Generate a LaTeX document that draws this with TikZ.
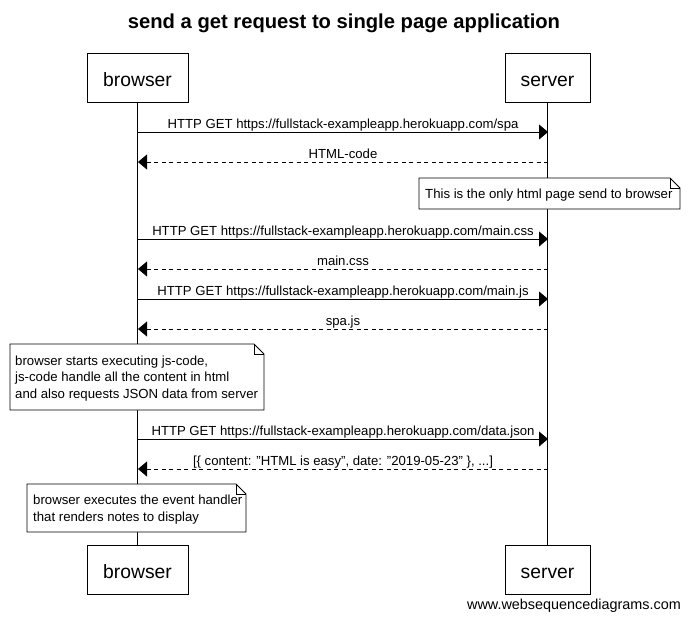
\documentclass[tikz,border=0pt]{standalone}
\usepackage{fontspec}
\setmainfont{Liberation Sans}
\usetikzlibrary{arrows.meta}
\newcommand{\sq}{\symbol{34}}
\begin{document}
\begin{tikzpicture}[x=1pt,y=-1pt,
  actor/.style={draw,fill=white,line width=0.8pt,minimum width=101pt,minimum height=49pt,inner sep=0pt,text height=17.5pt,text depth=0.5pt,font=\fontsize{19.3}{23}\selectfont},
  actorS/.style={actor,minimum width=85pt},
  msg/.style={line width=0.8pt,-{Triangle[length=9pt,width=15pt]}},
  reply/.style={msg,dash pattern=on 4pt off 3.5pt},
  lbl/.style={font=\fontsize{13.15}{15}\selectfont,inner sep=0pt,anchor=base},
  notetxt/.style={font=\fontsize{13.2}{16.5}\selectfont,align=left,inner sep=0pt,anchor=north west},
  notebox/.style={draw,fill=white,line width=0.8pt},
  life/.style={line width=0.8pt}
]
\useasboundingbox (0,0) rectangle (688,619);
\node[font=\bfseries\fontsize{20.2}{24}\selectfont,inner sep=0pt,anchor=base] (title) at (344,28) {send a get request to single page application};
% actors
\node[actor] (bt) at (137.5,77.5) {browser};
\node[actorS] (st) at (547.5,77.5) {server};
\node[actor] (bb) at (137.5,569.5) {browser};
\node[actorS] (sb) at (547.5,569.5) {server};
\draw[life] (bt.south) -- (bb.north);
\draw[life] (st.south) -- (sb.north);
% message coordinates
\foreach \n/\y in {1/132,2/162,3/239,4/269,5/299,6/329,7/439,8/469}{
  \coordinate (b\n) at (138,\y);
  \coordinate (s\n) at (548,\y);
}
\draw[msg] (b1) -- (s1);
\node[lbl] (l1) at (343,128) {HTTP GET https://fullstack-exampleapp.herokuapp.com/spa};
\draw[reply] (s2) -- (b2);
\node[lbl] (l2) at (343,158) {HTML-code};
% note 1
\draw[notebox] (419,178) -- (670,178) -- (680,188) -- (680,209) -- (419,209) -- cycle;
\draw[line width=0.8pt] (670,178) -- (670,188) -- (680,188);
\node[notetxt] (n1) at (425,189) {This is the only html page send to browser};
\draw[msg] (b3) -- (s3);
\node[lbl] (l3) at (343,235) {HTTP GET https://fullstack-exampleapp.herokuapp.com/main.css};
\draw[reply] (s4) -- (b4);
\node[lbl] (l4) at (343,265) {main.css};
\draw[msg] (b5) -- (s5);
\node[lbl] (l5) at (343,295) {HTTP GET https://fullstack-exampleapp.herokuapp.com/main.js};
\draw[reply] (s6) -- (b6);
\node[lbl] (l6) at (343,325) {spa.js};
% note 2
\draw[notebox] (10,344) -- (254,344) -- (264,354) -- (264,410) -- (10,410) -- cycle;
\draw[line width=0.8pt] (254,344) -- (254,354) -- (264,354);
\node[notetxt] (n2) at (15,355.5) {browser starts executing js-code,\\js-code handle all the content in html\\and also requests JSON data from server};
\draw[msg] (b7) -- (s7);
\node[lbl] (l7) at (343,435) {HTTP GET https://fullstack-exampleapp.herokuapp.com/data.json};
\draw[reply] (s8) -- (b8);
\node[lbl] (l8) at (343,465) {[\{ content: \sq HTML is easy\sq, date: \sq 2019-05-23\sq\ \}, ...]};
% note 3
\draw[notebox] (27,484) -- (236,484) -- (246,494) -- (246,532) -- (27,532) -- cycle;
\draw[line width=0.8pt] (236,484) -- (236,494) -- (246,494);
\node[notetxt] (n3) at (33,495) {browser executes the event handler\\that renders notes to display};
\node[font=\fontsize{14.4}{16}\selectfont,inner sep=0pt,anchor=base] (wm) at (574,609) {www.websequencediagrams.com};
\end{tikzpicture}
\end{document}
